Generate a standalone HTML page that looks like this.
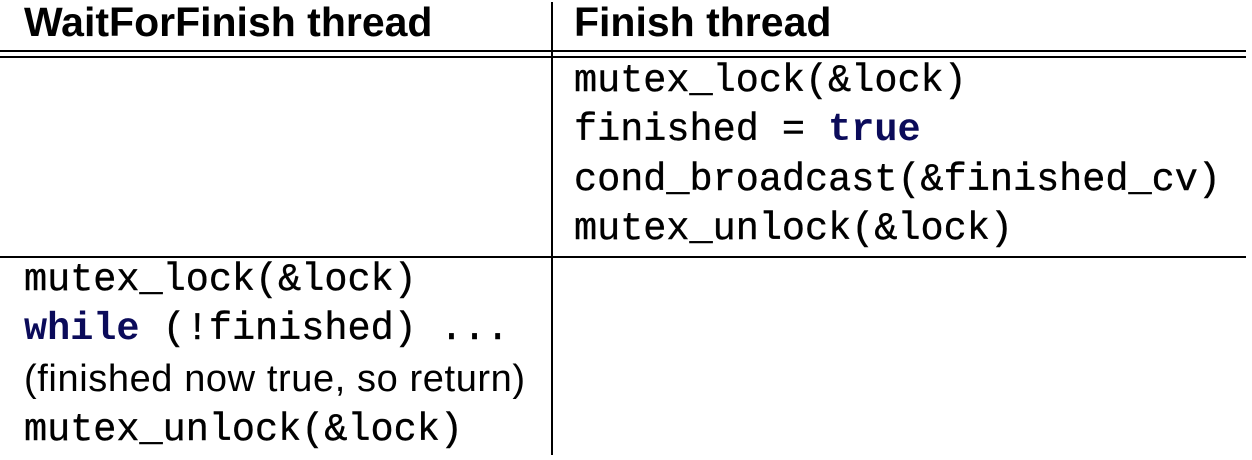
<!DOCTYPE html>
<html><head><meta charset="utf-8"><style>
body{margin:0;width:1252px;height:460px;background:#fff;position:relative;overflow:hidden;color:#000}
.l{position:absolute;background:#000}
.h{position:absolute;font-family:"Liberation Sans",sans-serif;font-weight:bold;font-size:41px;line-height:44px;top:0}
.blk{position:absolute;font-family:"Liberation Mono",monospace;font-size:38.5px;line-height:49.4px;white-space:pre;-webkit-text-stroke:0.4px #000}
.k{color:#0b0b5a;font-weight:bold;-webkit-text-stroke:0}
.s{font-family:"Liberation Sans",sans-serif;font-size:38px;letter-spacing:0.6px;-webkit-text-stroke:0}
</style></head><body>
<div class="l" style="left:551px;top:2px;width:1.5px;height:453px"></div>
<div class="l" style="left:0;top:50px;width:1246px;height:1.6px"></div>
<div class="l" style="left:0;top:56px;width:1246px;height:1.6px"></div>
<div class="l" style="left:0;top:256px;width:1246px;height:1.6px"></div>
<div class="h" style="left:24px">WaitForFinish thread</div>
<div class="h" style="left:574px">Finish thread</div>
<div class="blk" style="left:574px;top:57px">mutex_lock(&amp;lock)
finished = <span class="k">true</span>
cond_broadcast(&amp;finished_cv)
mutex_unlock(&amp;lock)</div>
<div class="blk" style="left:24px;top:256px">mutex_lock(&amp;lock)
<span class="k">while</span> (!finished) ...
<span class="s">(finished now true, so return)</span>
mutex_unlock(&amp;lock)</div>
</body></html>
